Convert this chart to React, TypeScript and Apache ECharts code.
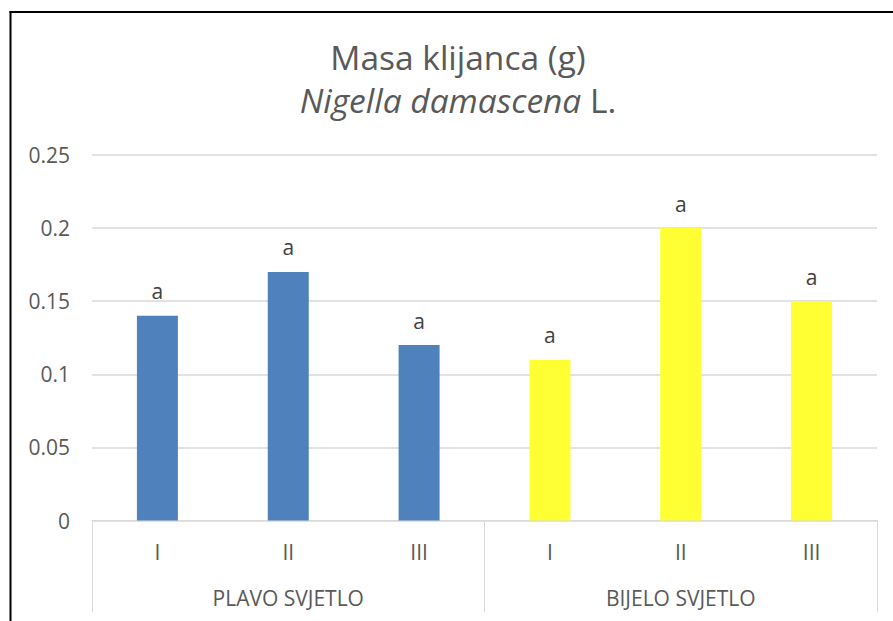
import React, { useEffect, useRef } from "react";
import * as echarts from "echarts";

const categories = ["I", "II", "III", "I", "II", "III"];
const groups = ["PLAVO SVJETLO", "BIJELO SVJETLO"];
const plavoValues = [0.14, 0.17, 0.12];
const bijeloValues = [0.11, 0.2, 0.15];
const letters = ["a", "a", "a", "a", "a", "a"];
const yTicks = [0, 0.05, 0.1, 0.15, 0.2, 0.25];

const BLUE = "#4F81BD";
const YELLOW = "#FFFF33";
const FONT = "Open Sans";

export default function App() {
  const ref = useRef<HTMLDivElement>(null);
  useEffect(() => {
    if (!ref.current) return;
    const chart = echarts.init(ref.current, null, { renderer: "svg" });
    const data = [
      ...plavoValues.map((v) => ({ value: v, itemStyle: { color: BLUE } })),
      ...bijeloValues.map((v) => ({ value: v, itemStyle: { color: YELLOW } })),
    ];
    chart.setOption({
      animation: false,
      backgroundColor: "#ffffff",
      textStyle: { fontFamily: FONT },
      grid: { left: 92, right: 16, top: 155, bottom: 100.5, containLabel: false },
      xAxis: [
        {
          type: "category",
          data: categories,
          position: "bottom",
          axisLine: { show: true, lineStyle: { color: "#d9d9d9", width: 1 } },
          axisTick: { show: false },
          axisLabel: { color: "#595959", fontSize: 21, margin: 21, fontFamily: FONT },
        },
        {
          type: "category",
          data: groups,
          position: "bottom",
          axisLine: { show: false },
          axisTick: {
            show: true,
            length: 92,
            inside: false,
            alignWithLabel: false,
            lineStyle: { color: "#d9d9d9", width: 1 },
          },
          axisLabel: { color: "#595959", fontSize: 21, margin: 67, fontFamily: FONT },
          splitLine: { show: false },
        },
      ],
      yAxis: {
        type: "value",
        min: 0,
        max: 0.25,
        interval: 0.05,
        axisLine: { show: false },
        axisTick: { show: false },
        splitLine: { show: true, lineStyle: { color: "#d9d9d9", width: 1.5 } },
        axisLabel: {
          color: "#595959",
          fontSize: 21,
          margin: 22,
          fontFamily: FONT,
          formatter: (v: number) => {
            const i = yTicks.findIndex((t) => Math.abs(t - v) < 1e-9);
            return i >= 0 ? String(yTicks[i]) : "";
          },
        },
      },
      series: [
        {
          type: "bar",
          xAxisIndex: 0,
          barWidth: 41,
          data,
          label: {
            show: true,
            position: "top",
            distance: 14,
            color: "#404040",
            fontSize: 21,
            fontFamily: FONT,
            formatter: (p: any) => letters[p.dataIndex],
          },
        },
      ],
      graphic: [
        {
          type: "text",
          style: {
            text: "Masa klijanca (g)",
            x: 458,
            y: 57,
            fill: "#595959",
            font: `33.5px "${FONT}"`,
            textAlign: "center",
            textVerticalAlign: "middle",
          },
        },
        {
          type: "text",
          style: {
            text: "{i|Nigella damascena}{n| L.}",
            x: 458,
            y: 100,
            textAlign: "center",
            textVerticalAlign: "middle",
            rich: {
              i: { fontSize: 33.5, fontStyle: "italic", fontFamily: FONT, fill: "#595959" },
              n: { fontSize: 33.5, fontFamily: FONT, fill: "#595959" },
            },
          },
        },
        {
          type: "line",
          shape: { x1: 9.5, y1: 12, x2: 893, y2: 12 },
          style: { stroke: "#000000", lineWidth: 2 },
        },
        {
          type: "line",
          shape: { x1: 10.5, y1: 11, x2: 10.5, y2: 621 },
          style: { stroke: "#000000", lineWidth: 2 },
        },
      ],
    });
    return () => chart.dispose();
  }, []);
  return (
    <div
      ref={ref}
      style={{ position: "fixed", left: 0, top: 0, width: 893, height: 621 }}
    />
  );
}
